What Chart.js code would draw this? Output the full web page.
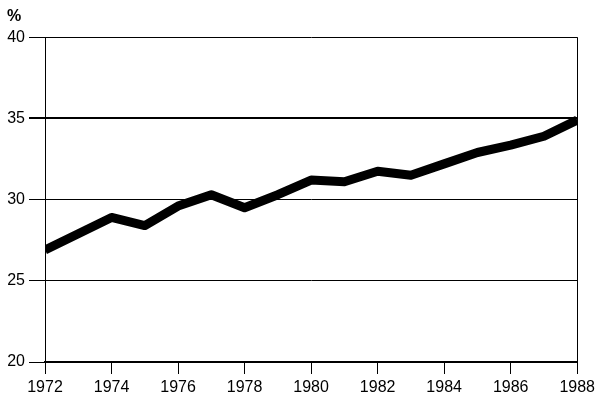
<!DOCTYPE html>
<html lang="en">
<head>
    <meta charset="UTF-8">
    <title>Share, 1972-1988</title>
    <script src="https://cdn.jsdelivr.net/npm/chart.js@4/dist/chart.umd.min.js"></script>
    <style>
        html, body { margin: 0; padding: 0; background: #fff; }
        #wrap { width: 599px; height: 404px; }
    </style>
</head>
<body>
<div id="wrap"><canvas id="myChart" width="599" height="404"></canvas></div>

<script>
    var years = [1972, 1973, 1974, 1975, 1976, 1977, 1978, 1979, 1980,
                 1981, 1982, 1983, 1984, 1985, 1986, 1987, 1988];
    var values = [26.9, 27.9, 28.9, 28.4, 29.6, 30.3, 29.5, 30.3, 31.2,
                  31.1, 31.75, 31.5, 32.2, 32.9, 33.35, 33.9, 34.9];
    var yTicks = [20, 25, 30, 35, 40];
    var xTicks = [1972, 1974, 1976, 1978, 1980, 1982, 1984, 1986, 1988];

    (function(){
        var ctx = document.getElementById("myChart").getContext("2d");
        var font = { family: "'Liberation Sans', Arial, sans-serif", size: 16 };

        var points = years.map(function (y, i) { return { x: y, y: values[i] }; });

        new Chart(ctx, {
            type: 'line',
            data: {
                datasets: [{
                    data: points,
                    borderColor: '#000',
                    borderWidth: 9,
                    borderJoinStyle: 'round',
                    borderCapStyle: 'butt',
                    pointRadius: 0,
                    tension: 0,
                    fill: false
                }]
            },
            options: {
                responsive: false,
                animation: false,
                layout: { padding: { left: 7, right: 21, top: 0, bottom: 0 } },
                plugins: {
                    legend: { display: false },
                    tooltip: { enabled: false },
                    title: {
                        display: true,
                        text: '%',
                        align: 'start',
                        color: '#000',
                        font: font,
                        padding: { top: 7, bottom: 11 }
                    }
                },
                scales: {
                    x: {
                        type: 'linear',
                        min: 1972,
                        max: 1988,
                        afterBuildTicks: function (scale) {
                            scale.ticks = xTicks.map(function (v) { return { value: v }; });
                        },
                        afterFit: function (scale) { scale.height = 42; },
                        border: { display: true, color: '#000', width: 2 },
                        grid: {
                            drawOnChartArea: true,
                            color: function (c) { return c.tick && c.tick.value === 1988 ? '#000' : 'rgba(0,0,0,0)'; },
                            tickColor: '#000',
                            tickLength: 12,
                            lineWidth: 1
                        },
                        ticks: {
                            color: '#000',
                            font: font,
                            padding: 4,
                            maxRotation: 0,
                            callback: function (v) { return String(v); }
                        }
                    },
                    y: {
                        min: 20,
                        max: 40,
                        afterBuildTicks: function (scale) {
                            scale.ticks = yTicks.map(function (v) { return { value: v }; });
                        },
                        afterFit: function (scale) { scale.width = 38; },
                        border: { display: true, color: '#000', width: 1 },
                        grid: {
                            color: '#000',
                            tickColor: '#000',
                            tickLength: 16,
                            lineWidth: function (c) { return c.tick && c.tick.value === 35 ? 2 : 1; }
                        },
                        ticks: {
                            color: '#000',
                            font: font,
                            padding: 4
                        }
                    }
                }
            }
        });
    })();
</script>
</body>
</html>
